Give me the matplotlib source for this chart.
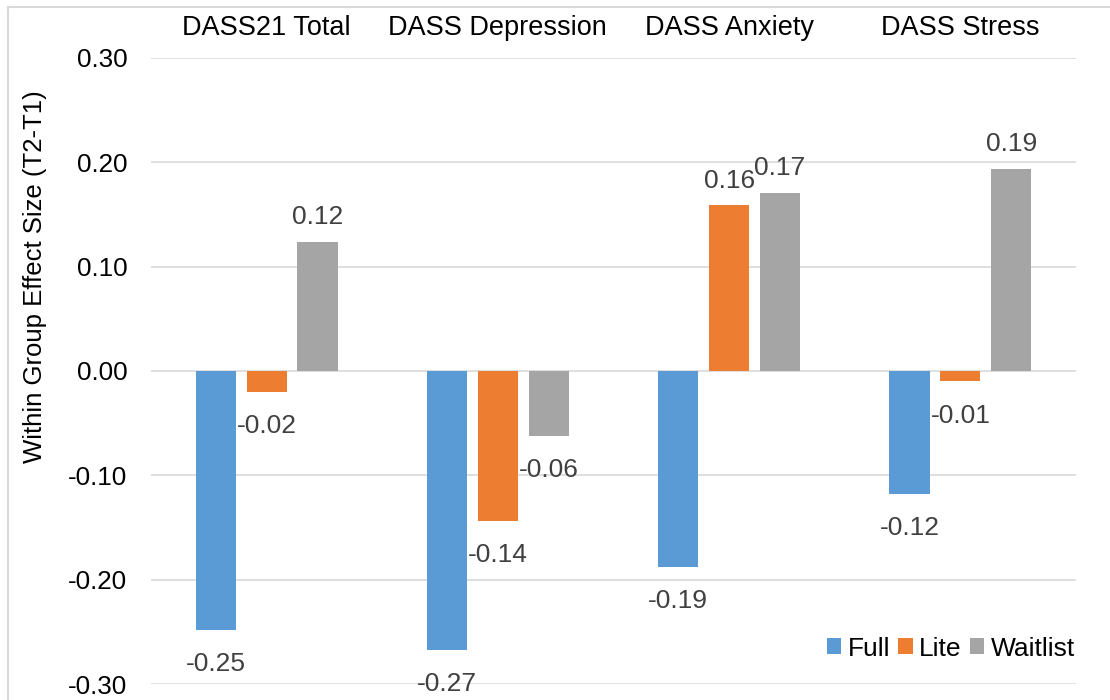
import numpy as np
import matplotlib
matplotlib.use("Agg")
import matplotlib.pyplot as plt
from matplotlib.lines import Line2D

plt.rcParams["font.family"] = ["Liberation Sans", "DejaVu Sans"]

# ======== data ========
measures = ["DASS21 Total", "DASS Depression", "DASS Anxiety", "DASS Stress"]
groups = ["Full", "Lite", "Waitlist"]
full = [-0.248, -0.267, -0.188, -0.118]
lite = [-0.020, -0.144, 0.159, -0.010]
waitlist = [0.124, -0.062, 0.171, 0.194]
yticks = [-0.30, -0.20, -0.10, 0.00, 0.10, 0.20, 0.30]

colors = ["#5B9BD5", "#ED7D31", "#A5A5A5"]

# ======== figure ========
fig = plt.figure(figsize=(11.1, 7.0), dpi=100)
W, H = 1110, 700
ax = fig.add_axes([151 / W, 1 - 684 / H, (1076 - 151) / W, (684 - 58) / H])

x = np.arange(len(measures))
bw = 0.173
step = 0.22
for i, (vals, name, c) in enumerate(zip([full, lite, waitlist], groups, colors)):
    bars = ax.bar(x + (i - 1) * step, vals, width=bw, color=c, label=name, zorder=3)
    # value labels: outside end, a bit further out below the axis
    for b, v in zip(bars, vals):
        off = 9 if v >= 0 else -16
        ax.annotate(f"{v:.2f}", (b.get_x() + b.get_width() / 2, v),
                    xytext=(0, off), textcoords="offset points",
                    ha="center", va="bottom" if v >= 0 else "top",
                    fontsize=19, color="#404040")

ax.set_xlim(-0.5, len(measures) - 0.5)
ax.set_ylim(-0.30, 0.30)
ax.set_yticks(yticks)
ax.set_yticklabels([f"{t:.2f}" for t in yticks])
ax.yaxis.grid(True, color="#D9D9D9", lw=1.2, zorder=0)
ax.set_axisbelow(True)

# category names sit above the plot
ax.xaxis.tick_top()
ax.set_xticks(x)
ax.set_xticklabels(measures)
ax.tick_params(axis="x", length=0, pad=12, labelsize=19.5)
ax.tick_params(axis="y", length=0, pad=17, labelsize=18.7)

for s in ax.spines.values():
    s.set_visible(False)

fig.text(35 / W, 1 - 277 / H, "Within Group Effect Size (T2-T1)", rotation=90,
         ha="center", va="center", fontsize=18.5)

ax.legend(loc="lower right", ncol=3, frameon=False, fontsize=19,
          handlelength=0.55, handleheight=0.55, handletextpad=0.25,
          columnspacing=0.3, bbox_to_anchor=(1.016, 0.012), borderaxespad=0.2)

# chart area border (top and left edges)
fig.add_artist(Line2D([8 / W, 1], [1 - 7 / H, 1 - 7 / H], color="#D9D9D9", lw=1.5))
fig.add_artist(Line2D([8 / W, 8 / W], [0, 1 - 7 / H], color="#D9D9D9", lw=1.5))

fig.savefig("out.png", dpi=100)
